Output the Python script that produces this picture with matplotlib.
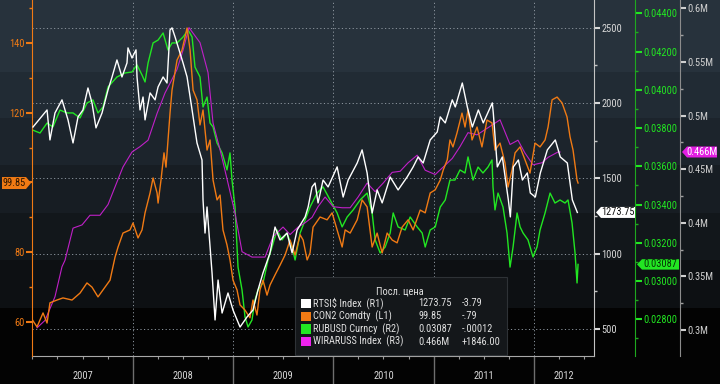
import matplotlib
matplotlib.use("Agg")
import matplotlib.pyplot as plt
from matplotlib import font_manager
from matplotlib.patches import Polygon, Rectangle
from matplotlib.ticker import MultipleLocator, FixedLocator, FuncFormatter, NullFormatter

# ---------------- data ----------------
rtsi_t = [2007.006, 2007.146, 2007.175, 2007.225, 2007.295, 2007.355, 2007.405, 2007.455, 2007.504, 2007.554,
          2007.594, 2007.634, 2007.694, 2007.754, 2007.794, 2007.843, 2007.893, 2007.943, 2007.953, 2007.993,
          2008.033, 2008.043, 2008.073, 2008.103, 2008.123, 2008.173, 2008.223, 2008.253, 2008.303, 2008.342,
          2008.372, 2008.392, 2008.422, 2008.462, 2008.502, 2008.542, 2008.592, 2008.641, 2008.691, 2008.701,
          2008.721, 2008.741, 2008.791, 2008.821, 2008.851, 2008.891, 2008.950, 2009.000, 2009.070, 2009.140,
          2009.199, 2009.249, 2009.299, 2009.369, 2009.419, 2009.469, 2009.539, 2009.589, 2009.639, 2009.719,
          2009.749, 2009.788, 2009.818, 2009.848, 2009.898, 2009.948, 2010.038, 2010.098, 2010.148, 2010.238,
          2010.287, 2010.337, 2010.387, 2010.437, 2010.487, 2010.567, 2010.646, 2010.736, 2010.796, 2010.846,
          2010.896, 2010.966, 2011.036, 2011.066, 2011.116, 2011.186, 2011.216, 2011.286, 2011.336, 2011.386,
          2011.446, 2011.495, 2011.585, 2011.595, 2011.635, 2011.685, 2011.745, 2011.765, 2011.795, 2011.845,
          2011.885, 2011.934, 2011.964, 2012.014, 2012.064, 2012.134, 2012.213, 2012.263, 2012.333, 2012.383,
          2012.433]
rtsi_v = [1841, 1954, 1755, 1934, 2021, 1888, 1735, 1908, 1954, 2100,
          2001, 1835, 1934, 2087, 2173, 2286, 2173, 2266, 2366, 2299,
          2353, 2173, 1954, 2040, 1888, 2067, 2021, 2107, 2173, 2133,
          2485, 2499, 2439, 2353, 2266, 2173, 1954, 1735, 1622, 1357,
          1137, 1310, 872, 560, 825, 606, 739, 626, 513, 580,
          626, 759, 872, 1005, 1177, 1091, 1137, 1005, 1157, 1244,
          1310, 1443, 1469, 1337, 1489, 1443, 1576, 1376, 1489, 1602,
          1689, 1536, 1270, 1423, 1337, 1509, 1423, 1509, 1576, 1642,
          1602, 1755, 1808, 1908, 1868, 2021, 1974, 2133, 1974, 1841,
          1954, 1868, 2001, 1934, 1576, 1642, 1357, 1244, 1576, 1622,
          1489, 1536, 1403, 1376, 1536, 1689, 1755, 1642, 1602, 1357,
          1273.75]

con_t = [2007.000, 2007.046, 2007.106, 2007.146, 2007.175, 2007.245, 2007.305, 2007.395, 2007.475, 2007.544,
         2007.594, 2007.654, 2007.724, 2007.774, 2007.824, 2007.854, 2007.903, 2007.973, 2008.003, 2008.053,
         2008.093, 2008.123, 2008.173, 2008.203, 2008.243, 2008.253, 2008.282, 2008.312, 2008.332, 2008.372,
         2008.392, 2008.442, 2008.492, 2008.542, 2008.572, 2008.602, 2008.641, 2008.671, 2008.701, 2008.741,
         2008.771, 2008.801, 2008.841, 2008.871, 2008.900, 2008.940, 2008.970, 2009.000, 2009.040, 2009.070,
         2009.120, 2009.169, 2009.199, 2009.239, 2009.269, 2009.299, 2009.339, 2009.369, 2009.419, 2009.469,
         2009.519, 2009.569, 2009.619, 2009.669, 2009.699, 2009.739, 2009.768, 2009.798, 2009.868, 2009.938,
         2009.988, 2010.038, 2010.088, 2010.118, 2010.168, 2010.238, 2010.287, 2010.337, 2010.387, 2010.437,
         2010.487, 2010.537, 2010.587, 2010.636, 2010.686, 2010.746, 2010.796, 2010.866, 2010.916, 2010.966,
         2011.016, 2011.066, 2011.096, 2011.136, 2011.163, 2011.193, 2011.233, 2011.283, 2011.313, 2011.343,
         2011.383, 2011.433, 2011.482, 2011.532, 2011.582, 2011.612, 2011.662, 2011.712, 2011.742, 2011.782,
         2011.812, 2011.862, 2011.911, 2011.961, 2012.011, 2012.061, 2012.111, 2012.141, 2012.181, 2012.231,
         2012.281, 2012.330, 2012.360, 2012.390, 2012.430, 2012.440]
con_v = [60.6, 58.6, 62.6, 59.7, 65.5, 66.3, 66.9, 66.3, 68.3, 71.2,
         70.0, 67.2, 70.0, 72.0, 78.6, 81.5, 85.5, 86.4, 88.4, 84.1,
         86.4, 91.3, 97.0, 101.3, 97.0, 94.1, 100.7, 108.5, 104.4, 119.9,
         126.5, 135.1, 138.0, 144.3, 138.0, 126.5, 123.7, 116.5, 120.8, 109.3,
         112.2, 100.7, 95.0, 96.4, 86.4, 82.1, 77.8, 72.0, 69.2, 64.9,
         63.4, 61.2, 66.3, 62.0, 69.2, 72.0, 67.7, 70.6, 73.5, 76.3,
         79.2, 83.5, 79.2, 85.0, 83.5, 77.8, 79.8, 87.2, 90.1, 89.3,
         91.3, 86.4, 81.5, 86.4, 85.5, 89.3, 95.0, 93.0, 81.5, 85.5,
         79.8, 85.5, 83.5, 82.7, 87.2, 89.3, 86.4, 92.1, 91.3, 97.0,
         97.9, 100.7, 103.6, 106.5, 112.2, 110.2, 114.2, 119.9, 115.9, 120.8,
         112.2, 115.9, 110.2, 117.9, 117.1, 109.3, 111.3, 105.6, 98.7, 103.6,
         108.5, 110.2, 106.5, 102.7, 111.3, 110.2, 112.2, 115.9, 123.7, 124.5,
         122.8, 118.8, 113.1, 109.3, 100.7, 99.85]

rub_t = [2007.000, 2007.076, 2007.146, 2007.205, 2007.275, 2007.345, 2007.405, 2007.475, 2007.544, 2007.604,
         2007.654, 2007.704, 2007.754, 2007.843, 2007.923, 2007.993, 2008.043, 2008.093, 2008.123, 2008.153,
         2008.203, 2008.253, 2008.303, 2008.352, 2008.392, 2008.442, 2008.502, 2008.552, 2008.592, 2008.621,
         2008.671, 2008.701, 2008.741, 2008.771, 2008.801, 2008.841, 2008.891, 2008.940, 2008.970, 2008.990,
         2009.020, 2009.050, 2009.090, 2009.120, 2009.150, 2009.189, 2009.219, 2009.249, 2009.299, 2009.349,
         2009.389, 2009.439, 2009.489, 2009.539, 2009.589, 2009.619, 2009.669, 2009.719, 2009.768, 2009.838,
         2009.898, 2009.968, 2010.038, 2010.088, 2010.138, 2010.198, 2010.267, 2010.337, 2010.387, 2010.417,
         2010.467, 2010.517, 2010.567, 2010.597, 2010.646, 2010.716, 2010.766, 2010.836, 2010.886, 2010.916,
         2010.966, 2011.016, 2011.066, 2011.116, 2011.163, 2011.213, 2011.263, 2011.313, 2011.343, 2011.393,
         2011.443, 2011.492, 2011.542, 2011.582, 2011.592, 2011.612, 2011.642, 2011.692, 2011.732, 2011.762,
         2011.792, 2011.832, 2011.862, 2011.892, 2011.941, 2011.991, 2012.031, 2012.061, 2012.111, 2012.161,
         2012.210, 2012.260, 2012.310, 2012.340, 2012.380, 2012.410, 2012.430, 2012.440]
rub_v = [0.03790, 0.03774, 0.03826, 0.03806, 0.03894, 0.03879, 0.03879, 0.03853, 0.03931, 0.03947,
         0.03879, 0.03910, 0.04015, 0.04067, 0.04088, 0.04093, 0.04130, 0.04077, 0.04041, 0.04140,
         0.04245, 0.04260, 0.04297, 0.04208, 0.04245, 0.04245, 0.04276, 0.04313, 0.04276, 0.04119,
         0.04067, 0.03910, 0.03962, 0.03826, 0.03806, 0.03722, 0.03670, 0.03581, 0.03670, 0.03528,
         0.03387, 0.03073, 0.02953, 0.02812, 0.02760, 0.02796, 0.02901, 0.02953, 0.02990, 0.03110,
         0.03178, 0.03267, 0.03215, 0.03251, 0.03178, 0.03110, 0.03251, 0.03319, 0.03387, 0.03460,
         0.03492, 0.03424, 0.03356, 0.03283, 0.03335, 0.03372, 0.03424, 0.03460, 0.03356, 0.03215,
         0.03147, 0.03178, 0.03251, 0.03356, 0.03283, 0.03267, 0.03335, 0.03283, 0.03251, 0.03178,
         0.03267, 0.03283, 0.03387, 0.03424, 0.03528, 0.03528, 0.03581, 0.03565, 0.03649, 0.03528,
         0.03596, 0.03565, 0.03596, 0.03633, 0.03492, 0.03372, 0.03460, 0.03387, 0.03251, 0.03073,
         0.03178, 0.03356, 0.03283, 0.03251, 0.03215, 0.03126, 0.03178, 0.03267, 0.03356, 0.03460,
         0.03408, 0.03424, 0.03408, 0.03424, 0.03304, 0.03147, 0.02990, 0.03087]

wir_t = [2007.046, 2007.126, 2007.225, 2007.295, 2007.325, 2007.405, 2007.495, 2007.574, 2007.674, 2007.754,
         2007.843, 2007.903, 2007.993, 2008.073, 2008.153, 2008.243, 2008.322, 2008.372, 2008.442, 2008.502,
         2008.561, 2008.671, 2008.751, 2008.801, 2008.871, 2008.950, 2009.020, 2009.090, 2009.189, 2009.319,
         2009.399, 2009.499, 2009.569, 2009.649, 2009.719, 2009.788, 2009.848, 2009.918, 2009.998, 2010.088,
         2010.168, 2010.247, 2010.337, 2010.417, 2010.497, 2010.587, 2010.666, 2010.746, 2010.836, 2010.916,
         2011.016, 2011.096, 2011.186, 2011.263, 2011.343, 2011.433, 2011.532, 2011.662, 2011.762, 2011.841,
         2011.911, 2011.991, 2012.081, 2012.141, 2012.240, 2012.260]
wir_v = [0.302, 0.309, 0.331, 0.359, 0.365, 0.395, 0.398, 0.407, 0.407, 0.417,
         0.438, 0.452, 0.466, 0.471, 0.477, 0.502, 0.521, 0.530, 0.543, 0.561,
         0.582, 0.568, 0.540, 0.493, 0.468, 0.437, 0.409, 0.373, 0.368, 0.368,
         0.387, 0.396, 0.389, 0.396, 0.400, 0.405, 0.415, 0.424, 0.415, 0.414,
         0.414, 0.424, 0.437, 0.429, 0.437, 0.447, 0.448, 0.456, 0.463, 0.449,
         0.445, 0.452, 0.460, 0.471, 0.484, 0.482, 0.488, 0.496, 0.473, 0.477,
         0.465, 0.454, 0.456, 0.461, 0.466, 0.466]

years = [2007, 2008, 2009, 2010, 2011, 2012]
legend_title = "Посл. цена"
legend_names = ["RTSI$ Index  (R1)", "CON2 Comdty  (L1)", "RUBUSD Curncy  (R2)", "WIRARUSS Index  (R3)"]
legend_last = ["1273.75", "99.85", "0.03087", "0.466M"]
legend_chg = ["-3.79", "-.79", "-.00012", "+1846.00"]
last_rtsi, last_con, last_rub, last_wir = 1273.75, 99.85, 0.03087, 0.466
left_hidden_label = 100  # covered by the last-price tag in the reference

# ---------------- style ----------------
WHITE = "#ffffff"
ORANGE = "#f07a14"
GREEN = "#22e622"
MAGENTA = "#c020c8"

avail = {f.name for f in font_manager.fontManager.ttflist}
FONT = "DejaVu Sans"
for cand in ["Liberation Sans Narrow", "Roboto Condensed", "Open Sans Condensed", "DejaVu Sans"]:
    if cand in avail:
        FONT = cand
        break
plt.rcParams["font.family"] = [FONT, "DejaVu Sans"]
FS = 7.5

W, H = 720, 384
fig = plt.figure(figsize=(7.2, 3.84), dpi=100)
fig.patch.set_facecolor("black")

# banded dark background
bg = fig.add_axes([0, 0, 1, 1], zorder=-10)
bg.set_xlim(0, 1)
bg.set_ylim(0, H)
bg.axis("off")
bands = [(0, 72, "#27323c"), (72, 118, "#212b34"), (118, 165, "#1c242c"), (165, 213, "#171d23"),
         (213, 260, "#12171b"), (260, 308, "#0d1013"), (308, 384, "#030303")]
for top, bot, c in bands:
    bg.axhspan(H - bot, H - top, color=c, lw=0)

L, R, B, T = 32.4, 593.6, 356, 0
ax = fig.add_axes([L / W, 1 - B / H, (R - L) / W, (B - T) / H])
ax.patch.set_alpha(0)

XMIN, XMAX = 2007.0, 2012.595
ax.set_xlim(XMIN, XMAX)

axG = ax.twinx()
axM = ax.twinx()
axO = ax.twinx()
axW = ax.twinx()

R1_LIM = (320.8, 2683.9)
L1_LIM = (50.25, 152.33)
R2_LIM = (0.026081, 0.044695)
R3_LIM = (0.27575, 0.60774)

ax.set_ylim(*R1_LIM)
axW.set_ylim(*R1_LIM)
axO.set_ylim(*L1_LIM)
axG.set_ylim(*R2_LIM)
axM.set_ylim(*R3_LIM)

# lines
axG.plot(rub_t, rub_v, color=GREEN, lw=1.0)
axM.plot(wir_t, wir_v, color=MAGENTA, lw=0.8)
axO.plot(con_t, con_v, color=ORANGE, lw=1.0)
axW.plot(rtsi_t, rtsi_v, color=WHITE, lw=1.0)

for a in (ax, axG, axM, axO, axW):
    for s in a.spines.values():
        s.set_visible(False)

# host: R1 axis + grid + x axis
ax.yaxis.tick_right()
ax.spines["right"].set_visible(True)
ax.spines["right"].set_color("#c4c4c4")
ax.spines["bottom"].set_visible(True)
ax.spines["bottom"].set_color("#a8a8a8")
ax.yaxis.set_major_locator(MultipleLocator(500))
ax.yaxis.set_minor_locator(MultipleLocator(250))
ax.yaxis.set_major_formatter(FuncFormatter(lambda v, p: f"{v:.0f}"))
ax.tick_params(axis="y", which="major", colors="#d8d8d8", length=4.5, width=1.5, pad=1, labelsize=FS)
ax.tick_params(axis="y", which="minor", colors="#c4c4c4", length=2.5, width=1)
ax.xaxis.set_major_locator(FixedLocator(years[1:]))
ax.xaxis.set_minor_locator(MultipleLocator(0.25))
ax.xaxis.set_major_formatter(NullFormatter())
ax.tick_params(axis="x", which="major", colors="#6e6e6e", length=20.2, width=1, direction="out")
ax.tick_params(axis="x", which="minor", colors="#9a9a9a", length=2, width=0.8, direction="out")
ax.grid(True, which="major", axis="both", color="#8c959e", lw=0.7, ls=(0, (1.2, 2.5)))
ax.set_axisbelow(True)

for y in years:
    lo, hi = max(y, XMIN), min(y + 1, XMAX)
    ax.text((lo + hi) / 2, -0.056, str(y), transform=ax.get_xaxis_transform(),
            ha="center", va="center", color="#d8d8d8", fontsize=FS)

# left axis: CON2
axO.yaxis.tick_left()
axO.yaxis.set_label_position("left")
axO.spines["left"].set_visible(True)
axO.spines["left"].set_color(ORANGE)
axO.yaxis.set_major_locator(MultipleLocator(20))
axO.yaxis.set_minor_locator(MultipleLocator(10))
axO.yaxis.set_major_formatter(FuncFormatter(
    lambda v, p: "" if abs(v - left_hidden_label) < 1e-6 else f"{v:.0f}"))
axO.tick_params(axis="y", which="major", colors=ORANGE, length=4.5, width=1.5, pad=1, labelsize=FS)
axO.tick_params(axis="y", which="minor", colors=ORANGE, length=2.5, width=1)

# R2 axis: RUBUSD
axG.spines["right"].set_visible(True)
axG.spines["right"].set_position(("axes", (635.3 - L) / (R - L)))
axG.spines["right"].set_color("#1fa81f")
axG.yaxis.set_major_locator(MultipleLocator(0.002))
axG.yaxis.set_minor_locator(MultipleLocator(0.001))
axG.yaxis.set_major_formatter(FuncFormatter(lambda v, p: f"{v:.5f}"))
axG.tick_params(axis="y", which="major", colors=GREEN, length=5, width=1.5, pad=0.8, labelsize=FS)
axG.tick_params(axis="y", which="minor", colors="#1fa81f", length=2.5, width=1)

# R3 axis: WIRARUSS
axM.spines["right"].set_visible(True)
axM.spines["right"].set_position(("axes", (680.0 - L) / (R - L)))
axM.spines["right"].set_color("#8c8c8c")
axM.yaxis.set_major_locator(MultipleLocator(0.05))
axM.yaxis.set_minor_locator(MultipleLocator(0.025))
axM.yaxis.set_major_formatter(FuncFormatter(lambda v, p: f"{v:.2f}".rstrip("0").rstrip(".") + "M"))
axM.tick_params(axis="y", which="major", colors="#d0d0d0", length=4.5, width=1.5, pad=1, labelsize=FS)
axM.tick_params(axis="y", which="minor", colors="#a0a0a0", length=2.5, width=1)

axW.yaxis.set_visible(False)
ax.yaxis.tick_right()


# ---------------- value tags ----------------
def value_tag(axis, value, label, face, txtcol, x_from, x_to, point, half_h=5.5):
    yd = axis.transData.transform((XMIN, value))[1]
    if point == "left":
        verts = [(x_from, yd), (x_from + 5, yd + half_h), (x_to, yd + half_h),
                 (x_to, yd - half_h), (x_from + 5, yd - half_h)]
        tx = (x_from + 5 + x_to) / 2
    else:
        verts = [(x_to, yd), (x_to - 5, yd + half_h), (x_from, yd + half_h),
                 (x_from, yd - half_h), (x_to - 5, yd - half_h)]
        tx = (x_from + x_to - 5) / 2
    fig.add_artist(Polygon([(vx / W, vy / H) for vx, vy in verts], closed=True,
                           transform=fig.transFigure, facecolor=face, edgecolor="none", zorder=20))
    fig.text(tx / W, yd / H, label, color=txtcol, ha="center", va="center", fontsize=FS, zorder=21)


value_tag(axO, last_con, legend_last[1], ORANGE, "#2a1400", 2, 31, "right", 6)
value_tag(axW, last_rtsi, legend_last[0], WHITE, "#111111", 596, 635, "left", 5.5)
value_tag(axG, last_rub, legend_last[2], GREEN, "#063006", 637, 679, "left", 5.2)
value_tag(axM, last_wir, legend_last[3], "#e21ee2", "#ffffff", 682, 717, "left", 5.5)

# ---------------- legend box ----------------
fig.add_artist(Rectangle((295 / W, (H - 355) / H), 212 / W, 78 / H, transform=fig.transFigure,
                         facecolor="#14171a", edgecolor="#2e3236", lw=0.8, zorder=20))
fig.text(400 / W, (H - 291.5) / H, legend_title, color="#e0e0e0", ha="center", va="center",
         fontsize=FS, zorder=21)
swatches = [WHITE, ORANGE, GREEN, "#ee22ee"]
rows = [303.5, 316.3, 329.0, 341.7]
for name, last, chg, col, ry in zip(legend_names, legend_last, legend_chg, swatches, rows):
    fig.add_artist(Rectangle((301 / W, (H - ry - 4.6) / H), 9.7 / W, 9.2 / H, transform=fig.transFigure,
                             facecolor=col, edgecolor="none", zorder=21))
    fig.text(312.7 / W, (H - ry) / H, name, color="#e0e0e0", ha="left", va="center", fontsize=FS, zorder=21)
    fig.text(418.3 / W, (H - ry) / H, last, color="#e0e0e0", ha="left", va="center", fontsize=FS, zorder=21)
    fig.text(461.7 / W, (H - ry) / H, chg, color="#e0e0e0", ha="left", va="center", fontsize=FS, zorder=21)

fig.savefig("out.png", dpi=100, facecolor=fig.get_facecolor())
